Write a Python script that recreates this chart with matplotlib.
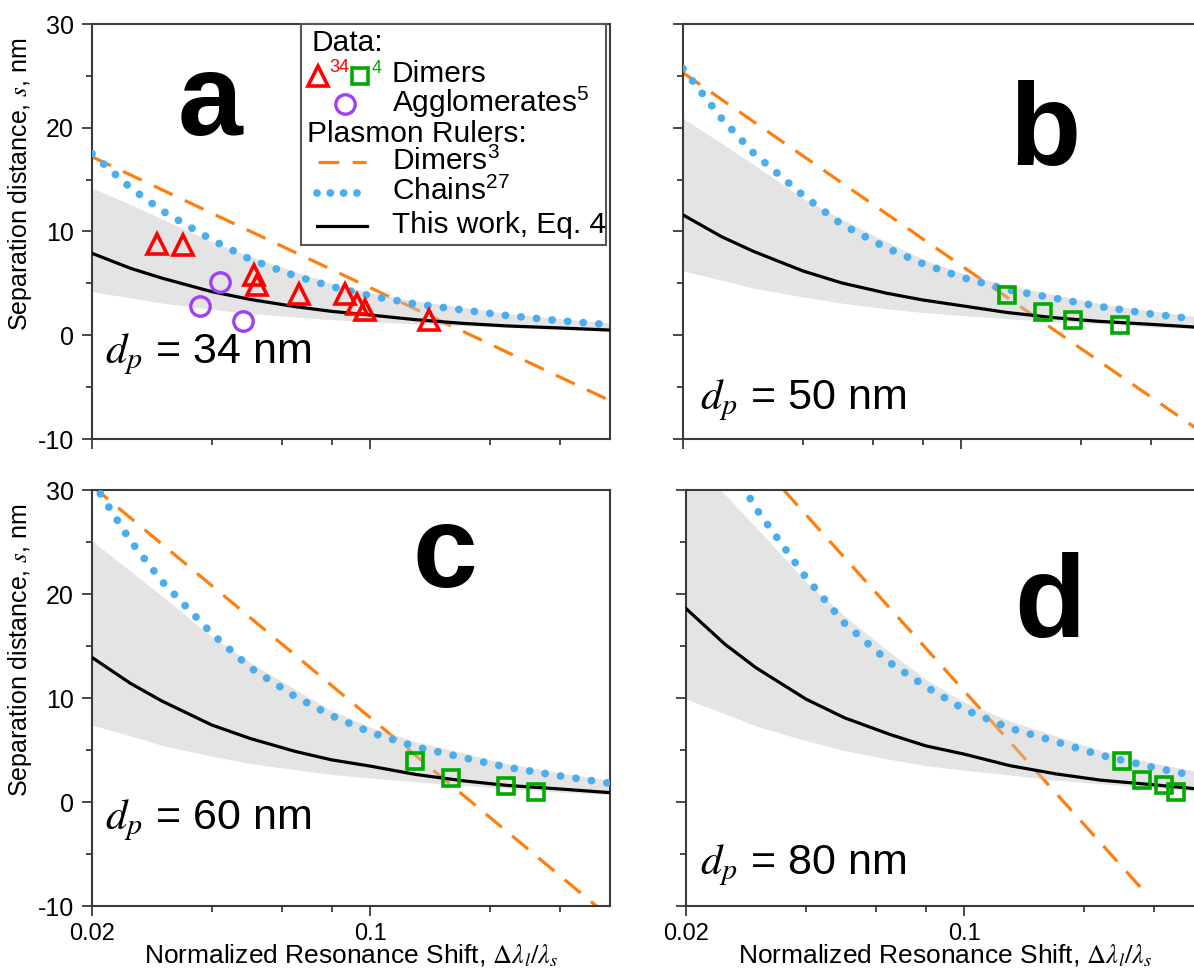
import matplotlib
matplotlib.use('Agg')
import matplotlib.pyplot as plt
from matplotlib.patches import Rectangle
from matplotlib.ticker import FixedLocator, NullFormatter, FixedFormatter

plt.rcParams['font.family'] = ['Liberation Sans', 'DejaVu Sans']
plt.rcParams['mathtext.fontset'] = 'stix'

# ---------------- data ----------------
x_grid = [0.02, 0.025, 0.03, 0.04, 0.05, 0.065, 0.08, 0.1, 0.13, 0.17, 0.22, 0.3, 0.4]

# "This work, Eq. 4" (black) per panel
black_a = [7.9, 6.45, 5.5, 4.2, 3.45, 2.75, 2.3, 1.95, 1.5, 1.15, 0.9, 0.7, 0.5]
black_b = [11.6, 9.5, 8.1, 6.2, 5.05, 4.05, 3.4, 2.85, 2.2, 1.7, 1.35, 1.05, 0.75]
black_c = [13.9, 11.4, 9.7, 7.4, 6.1, 4.85, 4.05, 3.45, 2.65, 2.05, 1.6, 1.25, 0.9]
black_d = [18.6, 15.2, 12.9, 9.9, 8.1, 6.5, 5.4, 4.6, 3.5, 2.7, 2.1, 1.65, 1.2]

# Chains plasmon ruler (blue dotted)
chain_a = [17.5, 14.2, 12.0, 9.2, 7.3, 5.7, 4.7, 3.8, 3.0, 2.45, 1.9, 1.4, 1.0]
chain_b = [25.7, 20.9, 17.6, 13.5, 10.7, 8.4, 6.9, 5.6, 4.4, 3.6, 2.8, 2.05, 1.5]
chain_c = [30.9, 25.1, 21.2, 16.2, 12.9, 10.1, 8.3, 6.7, 5.3, 4.3, 3.35, 2.5, 1.8]
chain_d = [41.2, 33.4, 28.2, 21.6, 17.2, 13.4, 11.1, 8.9, 7.1, 5.8, 4.5, 3.3, 2.35]

# Uncertainty band (grey) upper / lower
upper_a = [14.2, 12.6, 11.2, 9.0, 7.6, 6.1, 5.0, 4.1, 3.3, 2.7, 2.1, 1.6, 1.2]
upper_b = [20.9, 18.5, 16.5, 13.2, 11.2, 9.0, 7.35, 6.0, 4.85, 3.95, 3.1, 2.35, 1.75]
upper_c = [25.1, 22.2, 19.8, 15.9, 13.4, 10.8, 8.8, 7.2, 5.8, 4.75, 3.7, 2.8, 2.1]
upper_d = [33.4, 29.6, 26.4, 21.2, 17.9, 14.4, 11.8, 9.6, 7.8, 6.35, 4.95, 3.75, 2.8]
lower_a = [4.2, 3.6, 3.1, 2.5, 2.1, 1.75, 1.5, 1.3, 1.1, 0.9, 0.75, 0.55, 0.4]
lower_b = [6.2, 5.3, 4.55, 3.7, 3.1, 2.55, 2.2, 1.9, 1.6, 1.3, 1.1, 0.8, 0.6]
lower_c = [7.4, 6.35, 5.45, 4.4, 3.7, 3.1, 2.65, 2.3, 1.95, 1.6, 1.3, 0.95, 0.7]
lower_d = [9.9, 8.5, 7.3, 5.9, 4.95, 4.1, 3.5, 3.05, 2.6, 2.1, 1.75, 1.3, 0.95]

# Dimers plasmon ruler (orange dashed), end points
dimer_x_a = [0.02, 0.4]
dimer_y_a = [17.2, -6.3]
dimer_x_b = [0.02, 0.4]
dimer_y_b = [25.3, -9.3]
dimer_x_c = [0.02, 0.4]
dimer_y_c = [30.4, -11.1]
dimer_x_d = [0.0352, 0.28]
dimer_y_d = [30.0, -8.4]

# Measured data
tri_x = [0.0291, 0.0339, 0.0509, 0.0519, 0.0661, 0.0865, 0.0926, 0.0972, 0.1402]
tri_y = [8.84, 8.67, 5.8, 4.8, 4.0, 4.0, 3.0, 2.4, 1.45]
circ_x = [0.042, 0.0374, 0.0479]
circ_y = [5.1, 2.8, 1.4]
sq_x_b = [0.1303, 0.160, 0.1905, 0.251]
sq_y_b = [3.86, 2.25, 1.45, 1.03]
sq_x_c = [0.1298, 0.1598, 0.2197, 0.2604]
sq_y_c = [3.9, 2.3, 1.5, 1.0]
sq_x_d = [0.249, 0.280, 0.317, 0.340]
sq_y_d = [3.9, 2.1, 1.6, 1.0]

panel_letters = ['a', 'b', 'c', 'd']
particle_diam = [34, 50, 60, 80]

x_major = [0.02, 0.1]
x_major_labels = ['0.02', '0.1']
x_minor = [0.04, 0.06, 0.08, 0.2, 0.3]
y_major = [-10, 0, 10, 20, 30]
y_major_labels = ['-10', '0', '10', '20', '30']
y_minor = [-5, 5, 15, 25]

# ---------------- style ----------------
ORANGE = '#FF7F0E'
BLUE = '#4AAEEC'
RED = '#FF0000'
GREEN = '#00AA00'
PURPLE = '#A040F0'
SPINE = '#3a3a3a'
DASH = (0, (6.5, 4.2))
DOTS = (0, (0.01, 2.0))

W, H = 1194, 971
fig = plt.figure(figsize=(W / 100, H / 100), dpi=100)


def add_ax(left_px, top_px, right_px, bottom_px):
    return fig.add_axes([left_px / W, 1 - bottom_px / H,
                         (right_px - left_px) / W, (bottom_px - top_px) / H])


axes = [add_ax(92, 24, 610, 439), add_ax(683, 24, 1201, 439),
        add_ax(92, 490, 610, 906), add_ax(686, 490, 1204, 906)]

blacks = [black_a, black_b, black_c, black_d]
chains = [chain_a, chain_b, chain_c, chain_d]
uppers = [upper_a, upper_b, upper_c, upper_d]
lowers = [lower_a, lower_b, lower_c, lower_d]
dimx = [dimer_x_a, dimer_x_b, dimer_x_c, dimer_x_d]
dimy = [dimer_y_a, dimer_y_b, dimer_y_c, dimer_y_d]
sqx = [None, sq_x_b, sq_x_c, sq_x_d]
sqy = [None, sq_y_b, sq_y_c, sq_y_d]

letter_pos = [(0.228, 0.805), (0.699, 0.733), (0.681, 0.839), (0.703, 0.719)]
dp_pos = [(0.025, 0.205), (0.033, 0.094), (0.025, 0.207), (0.027, 0.099)]

for i, ax in enumerate(axes):
    ax.set_xscale('log')
    ax.set_xlim(0.02, 0.4)
    ax.set_ylim(-10, 30)

    ax.plot(dimx[i], dimy[i], color=ORANGE, lw=2.3, ls=DASH,
            dash_capstyle='butt', zorder=1)
    ax.fill_between(x_grid, lowers[i], uppers[i], color='#C4C4C4', alpha=0.45,
                    lw=0, zorder=2)
    ax.plot(x_grid, chains[i], color=BLUE, lw=5.6, ls=DOTS,
            dash_capstyle='round', zorder=3)
    ax.plot(x_grid, blacks[i], color='black', lw=2.3, zorder=4)

    if i == 0:
        ax.plot(tri_x, tri_y, ls='none', marker='^', ms=15, mfc='none',
                mec=RED, mew=2.6, zorder=5)
        ax.plot(circ_x, circ_y, ls='none', marker='o', ms=14, mfc='none',
                mec=PURPLE, mew=2.4, zorder=5)
    else:
        ax.plot(sqx[i], sqy[i], ls='none', marker='s', ms=11, mfc='none',
                mec=GREEN, mew=2.6, zorder=5)

    # ticks
    ax.xaxis.set_major_locator(FixedLocator(x_major))
    ax.xaxis.set_minor_locator(FixedLocator(x_minor))
    ax.xaxis.set_minor_formatter(NullFormatter())
    ax.yaxis.set_major_locator(FixedLocator(y_major))
    ax.yaxis.set_minor_locator(FixedLocator(y_minor))
    ax.tick_params(which='major', direction='out', length=7, width=1.3,
                   color=SPINE, labelsize=18, pad=6)
    ax.tick_params(axis='x', which='major', labelsize=17, pad=5)
    ax.tick_params(which='minor', direction='out', length=4, width=1.3,
                   color=SPINE)
    for s in ax.spines.values():
        s.set_color(SPINE)
        s.set_linewidth(1.5)

    if i >= 2:
        ax.xaxis.set_major_formatter(FixedFormatter(x_major_labels))
        ax.set_xlabel(r'Normalized Resonance Shift, $\Delta\lambda_l/\lambda_s$',
                      fontsize=19, labelpad=-1)
    else:
        ax.xaxis.set_major_formatter(NullFormatter())
    if i % 2 == 0:
        ax.set_yticklabels(y_major_labels)
        ax.set_ylabel(r'Separation distance, $s$, nm', fontsize=18)
        ax.yaxis.set_label_coords(-0.112, 0.615)
    else:
        ax.set_yticklabels([])

    ax.text(letter_pos[i][0], letter_pos[i][1], panel_letters[i],
            transform=ax.transAxes, fontsize=84, fontweight='bold',
            ha='center', va='center')
    ax.text(dp_pos[i][0], dp_pos[i][1], r'$d_p$' + ' = %d nm' % particle_diam[i],
            transform=ax.transAxes, fontsize=31, ha='left', va='center')

# ---------------- legend in panel a ----------------
ax = axes[0]


def fx(px):
    return (px - 92) / 518


def fy(py):
    return (439 - py) / 415


T = ax.transAxes
ax.add_patch(Rectangle((fx(301), fy(245)), fx(606) - fx(301), fy(24) - fy(245),
                       transform=T, fill=True, facecolor='white',
                       edgecolor='#555555', lw=1.5, zorder=10, clip_on=False))
fs = 21.5
ax.text(fx(311), fy(43), 'Data:', transform=T, fontsize=fs, va='center', zorder=11)
ax.plot([fx(318)], [fy(76)], transform=T, marker='^', ms=15, mfc='none',
        mec=RED, mew=2.6, zorder=11, clip_on=False)
ax.text(fx(329), fy(67), '34', transform=T, fontsize=13, color=RED,
        va='center', zorder=11)
ax.plot([fx(360)], [fy(76)], transform=T, marker='s', ms=11, mfc='none',
        mec=GREEN, mew=2.6, zorder=11, clip_on=False)
ax.text(fx(372), fy(68), '4', transform=T, fontsize=13, color=GREEN,
        va='center', zorder=11)
ax.text(fx(392), fy(74), 'Dimers', transform=T, fontsize=fs, va='center', zorder=11)
ax.plot([fx(345)], [fy(104)], transform=T, marker='o', ms=14, mfc='none',
        mec=PURPLE, mew=2.4, zorder=11, clip_on=False)
ax.text(fx(392), fy(103), r'Agglomerates$^{\mathregular{5}}$', transform=T,
        fontsize=fs, va='center', zorder=11)
ax.text(fx(307), fy(134), 'Plasmon Rulers:', transform=T, fontsize=fs,
        va='center', zorder=11)
ax.plot([fx(318), fx(366)], [fy(162), fy(162)], transform=T, color=ORANGE,
        lw=2.3, ls=DASH, zorder=11, clip_on=False)
ax.text(fx(392), fy(162), r'Dimers$^{\mathregular{3}}$', transform=T,
        fontsize=fs, va='center', zorder=11)
ax.plot([fx(317), fx(367)], [fy(193), fy(193)], transform=T, color=BLUE,
        lw=5.6, ls=(0, (0.01, 1.7)), dash_capstyle='round', zorder=11,
        clip_on=False)
ax.text(fx(392), fy(192), r'Chains$^{\mathregular{27}}$', transform=T,
        fontsize=fs, va='center', zorder=11)
ax.plot([fx(317), fx(367)], [fy(226), fy(226)], transform=T, color='black',
        lw=2.3, zorder=11, clip_on=False)
ax.text(fx(392), fy(225), 'This work, Eq. 4', transform=T, fontsize=fs,
        va='center', zorder=11)

fig.savefig('out.png', dpi=100)
